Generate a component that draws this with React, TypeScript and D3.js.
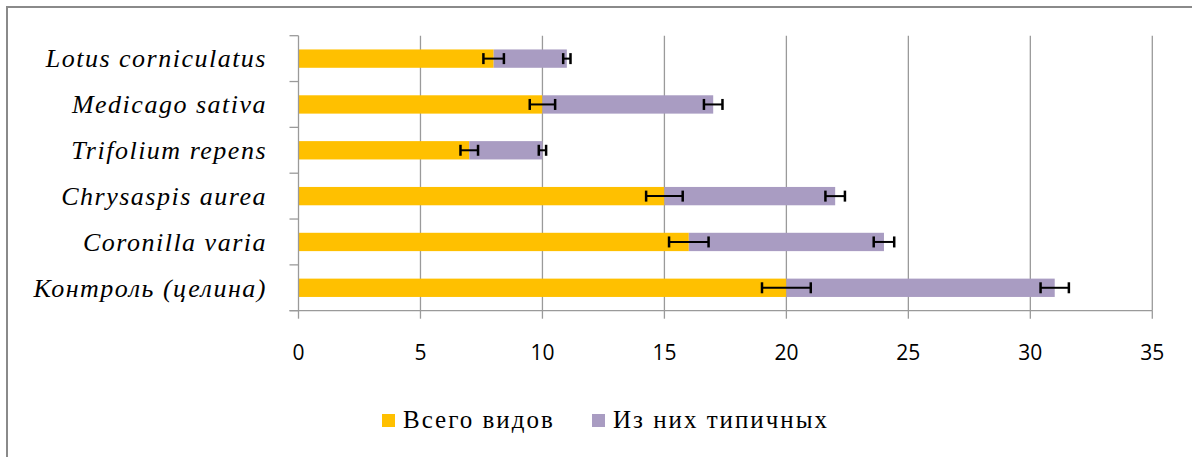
import * as d3 from 'd3';

const categories = [
  'Lotus corniculatus',
  'Medicago sativa',
  'Trifolium repens',
  'Chrysaspis aurea',
  'Coronilla varia',
  'Контроль (целина)'
];
const seriesNames = ['Всего видов', 'Из них типичных'];
const totalSpecies = [8, 10, 7, 15, 16, 20];
const typicalSpecies = [3, 7, 3, 7, 8, 11];
const totalErr = [0.42, 0.52, 0.36, 0.75, 0.81, 1.0];
const typicalErr = [0.15, 0.38, 0.15, 0.4, 0.42, 0.58];
const xTicks = [0, 5, 10, 15, 20, 25, 30, 35];

const colors = ['#FFC000', '#A99CC2'];

export default function App() {
  const width = 1192;
  const height = 457;
  const left = 298.5;
  const right = 1152.3;
  const top = 35.7;
  const bottom = 310.7;

  const x = d3.scaleLinear().domain([0, 35]).range([left, right]);
  const y = d3
    .scaleBand<string>()
    .domain(categories)
    .range([top, bottom])
    .paddingInner(0.6)
    .paddingOuter(0.3);
  const step = y.step();

  const stack = d3
    .stack<number>()
    .keys(['0', '1'])
    .value((i, key) => (key === '0' ? totalSpecies[i] : typicalSpecies[i]));
  const stacked = stack(d3.range(categories.length));
  const errs = [totalErr, typicalErr];

  const capH = 11;

  return (
    <svg
      width={width}
      height={height}
      style={{ position: 'absolute', left: 0, top: 0, background: '#fff' }}
    >
      {/* outer frame */}
      <rect x={7} y={7} width={width + 20} height={height + 20} fill="none" stroke="#8a8a8a" strokeWidth={2} />

      {/* gridlines */}
      {xTicks.slice(1).map((t) => (
        <line key={t} x1={x(t)} x2={x(t)} y1={top} y2={bottom} stroke="#9a9a9a" strokeWidth={1.3} />
      ))}

      {/* bars */}
      {stacked.map((layer, si) =>
        layer.map((d, i) => (
          <rect
            key={`${si}-${i}`}
            x={x(d[0])}
            y={y(categories[i])!}
            width={x(d[1]) - x(d[0])}
            height={y.bandwidth()}
            fill={colors[si]}
          />
        ))
      )}

      {/* error bars */}
      {stacked.map((layer, si) =>
        layer.map((d, i) => {
          const cy = y(categories[i])! + y.bandwidth() / 2;
          const e = errs[si][i];
          const x0 = x(d[1] - e);
          const x1 = x(d[1] + e);
          return (
            <g key={`e${si}-${i}`} stroke="#000">
              <line x1={x0} x2={x1} y1={cy} y2={cy} strokeWidth={2} />
              <line x1={x0} x2={x0} y1={cy - capH / 2} y2={cy + capH / 2} strokeWidth={2.5} />
              <line x1={x1} x2={x1} y1={cy - capH / 2} y2={cy + capH / 2} strokeWidth={2.5} />
            </g>
          );
        })
      )}

      {/* y axis */}
      <line x1={left} x2={left} y1={top} y2={bottom} stroke="#9a9a9a" strokeWidth={1.3} />
      {d3.range(categories.length + 1).map((k) => (
        <line
          key={k}
          x1={left - 9}
          x2={left}
          y1={top + k * step}
          y2={top + k * step}
          stroke="#9a9a9a"
          strokeWidth={1.3}
        />
      ))}
      {categories.map((c) => (
        <text
          key={c}
          x={267}
          y={y(c)! + y.bandwidth() / 2}
          dy="0.34em"
          textAnchor="end"
          fontFamily="'Liberation Serif', serif"
          fontStyle="italic"
          fontSize={26}
          letterSpacing={1.5}
          fill="#000"
        >
          {c}
        </text>
      ))}

      {/* x axis */}
      <line x1={left - 9} x2={right} y1={bottom} y2={bottom} stroke="#9a9a9a" strokeWidth={1.3} />
      {xTicks.map((t) => (
        <g key={t}>
          <line x1={x(t)} x2={x(t)} y1={bottom} y2={bottom + 8} stroke="#9a9a9a" strokeWidth={1.3} />
          <text
            x={x(t)}
            y={360}
            textAnchor="middle"
            fontFamily="'Open Sans', sans-serif"
            fontSize={21}
            fill="#000"
          >
            {t}
          </text>
        </g>
      ))}

      {/* legend */}
      {seriesNames.map((name, si) => {
        const lx = si === 0 ? 382 : 592;
        return (
          <g key={name}>
            <rect x={lx} y={414} width={13} height={13} fill={colors[si]} />
            <text
              x={lx + 21}
              y={428}
              fontFamily="'Liberation Serif', serif"
              fontSize={25}
              letterSpacing={2}
              fill="#000"
            >
              {name}
            </text>
          </g>
        );
      })}
    </svg>
  );
}
